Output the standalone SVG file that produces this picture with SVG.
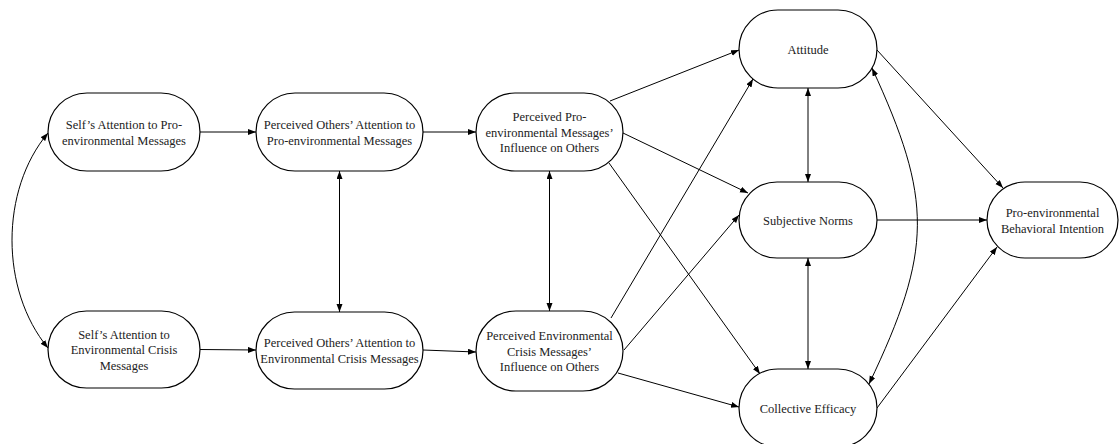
<svg xmlns="http://www.w3.org/2000/svg" width="1120" height="444" viewBox="0 0 1120 444">
<defs>
<marker id="ah" markerUnits="userSpaceOnUse" markerWidth="9" markerHeight="7" refX="8" refY="3" orient="auto-start-reverse">
<path d="M0,0 L8,3 L0,6 z" fill="#000"/>
</marker>
<style>
.node rect{fill:#fff;stroke:#000;stroke-width:1.2}
.node text{font-size:12.5px;fill:#222;text-anchor:middle}
.edges path{fill:none;stroke:#000;stroke-width:1}
.one{marker-end:url(#ah)}
.two{marker-start:url(#ah);marker-end:url(#ah)}
</style>
</defs>
<rect width="1120" height="444" fill="#fff"/>
<g class="edges">
<path class="one" d="M200,132 L256,132"/>
<path class="one" d="M200,349.5 L256,350"/>
<path class="one" d="M423,132 L476,132"/>
<path class="one" d="M423,350 L476,352"/>
<path class="two" d="M339.5,171 L339.5,312"/>
<path class="two" d="M549.5,171 L549.5,311"/>
<path class="one" d="M610,101 L739,50"/>
<path class="one" d="M623,133 L748,193"/>
<path class="one" d="M609,163 L760,374"/>
<path class="one" d="M611,318 L753,79"/>
<path class="one" d="M624,350 L739,215"/>
<path class="one" d="M618,373 L739,407"/>
<path class="two" d="M808,88 L808,182"/>
<path class="two" d="M808,258 L808,369"/>
<path class="one" d="M877,50 L1003,188"/>
<path class="one" d="M877,220 L987,220"/>
<path class="one" d="M877,408 L997,247"/>
<path class="two" d="M48,133 C0,190 0,290 48,348"/>
<path class="two" d="M872,68 C933,200 933,250 869,384"/>
</g>
<g font-family="Liberation Serif, DejaVu Serif, serif">
<g id="n1" class="node"><rect x="48" y="93" width="152" height="78" rx="39"/><text x="124" y="129">Self’s Attention to Pro-</text><text x="124" y="144.5">environmental Messages</text></g>
<g id="n2" class="node"><rect x="48" y="311" width="152" height="77" rx="38.5"/><text x="124" y="338.5">Self’s Attention to</text><text x="124" y="354">Environmental Crisis</text><text x="124" y="369.5">Messages</text></g>
<g id="n3" class="node"><rect x="256" y="93" width="167" height="78" rx="39"/><text x="339.5" y="129">Perceived Others’ Attention to</text><text x="339.5" y="144.5">Pro-environmental Messages</text></g>
<g id="n4" class="node"><rect x="256" y="312" width="167" height="77" rx="38.5"/><text x="339.5" y="347">Perceived Others’ Attention to</text><text x="339.5" y="362.5">Environmental Crisis Messages</text></g>
<g id="n5" class="node"><rect x="476" y="93" width="147" height="78" rx="39"/><text x="549.5" y="121">Perceived Pro-</text><text x="549.5" y="136.5">environmental Messages’</text><text x="549.5" y="152">Influence on Others</text></g>
<g id="n6" class="node"><rect x="476" y="311" width="147" height="80" rx="40"/><text x="549.5" y="340">Perceived Environmental</text><text x="549.5" y="355.5">Crisis Messages’</text><text x="549.5" y="371">Influence on Others</text></g>
<g id="n7" class="node"><rect x="739" y="10" width="138" height="78" rx="39"/><text x="808" y="53.5">Attitude</text></g>
<g id="n8" class="node"><rect x="739" y="182" width="138" height="76" rx="38"/><text x="808" y="224.5">Subjective Norms</text></g>
<g id="n9" class="node"><rect x="739" y="369" width="138" height="78" rx="39"/><text x="808" y="412.5">Collective Efficacy</text></g>
<g id="n10" class="node"><rect x="987" y="182" width="131" height="76" rx="38"/><text x="1052.5" y="217">Pro-environmental</text><text x="1052.5" y="232.5">Behavioral Intention</text></g>
</g>
</svg>
